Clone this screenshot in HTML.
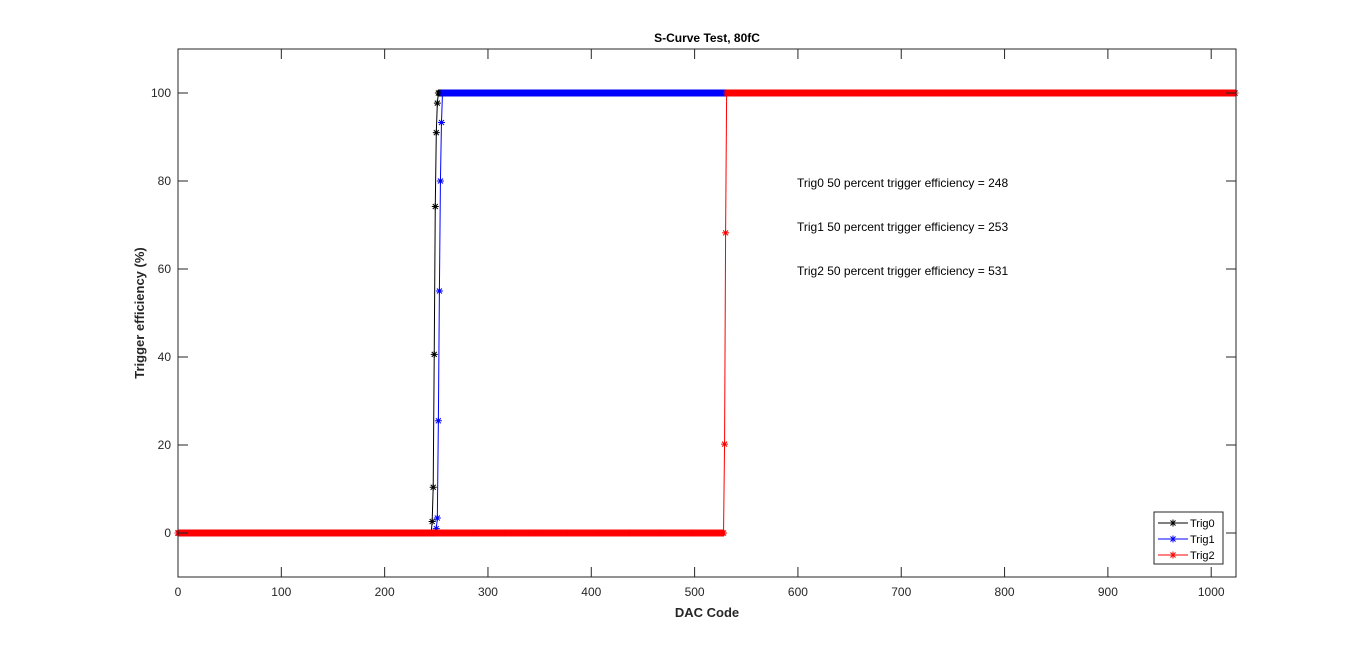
<!DOCTYPE html>
<html><head><meta charset="utf-8"><style>
html,body{margin:0;padding:0;background:#fff;}
svg{display:block;font-family:"Liberation Sans",Arial,sans-serif;}
</style></head><body>
<svg id="chart" width="1366" height="650" viewBox="0 0 1366 650">
<rect x="0" y="0" width="1366" height="650" fill="#fff"/>
<rect x="178" y="49" width="1058" height="528" fill="#fff"/>
<g id="series"></g>
<g id="axes"></g>
<text x="707" y="42" text-anchor="middle" font-size="12" font-weight="bold" fill="#000">S-Curve Test, 80fC</text>
<text x="707" y="617" text-anchor="middle" font-size="13" font-weight="bold" fill="#262626">DAC Code</text>
<text transform="translate(144,313) rotate(-90)" text-anchor="middle" font-size="13" font-weight="bold" fill="#262626">Trigger efficiency (%)</text>
<text x="797" y="187" font-size="12" fill="#000">Trig0 50 percent trigger efficiency = 248</text>
<text x="797" y="231" font-size="12" fill="#000">Trig1 50 percent trigger efficiency = 253</text>
<text x="797" y="275" font-size="12" fill="#000">Trig2 50 percent trigger efficiency = 531</text>
<g>
<rect x="1154" y="512" width="69" height="52" fill="#fff" stroke="#262626" stroke-width="1"/>
<g id="legend-items"></g>
</g>
</svg>
<script>
// ---- data ----
const xTicks = [0,100,200,300,400,500,600,700,800,900,1000];
const yTicks = [0,20,40,60,80,100];
const seriesNames = ["Trig0","Trig1","Trig2"];
const seriesColors = ["#000000","#0000ff","#ff0000"];
const dacMin = 0, dacMax = 1023;
const lowLevel = 0, highLevel = 100;
// transition region points (DAC code, efficiency %)
const trig0Codes = [246,247,248,249,250,251];
const trig0Values = [2.6,10.4,40.6,74.2,91.0,97.7];
const trig1Codes = [250,251,252,253,254,255];
const trig1Values = [1.0,3.4,25.5,55.0,80.0,93.3];
const trig2Codes = [529,530];
const trig2Values = [20.2,68.2];

const X0=178, X1=1236, Y0=49, Y1=577, XMIN=0, XMAX=1024, YMIN=-10, YMAX=110;
const sx = v => X0 + (v-XMIN)/(XMAX-XMIN)*(X1-X0);
const sy = v => Y1 - (v-YMIN)/(YMAX-YMIN)*(Y1-Y0);
const NS="http://www.w3.org/2000/svg";

function buildSeries(codes, values){
  const pts=[];
  for(let c=dacMin;c<=dacMax;c++){
    const i=codes.indexOf(c);
    let v;
    if(i>=0) v=values[i];
    else if(c<codes[0]) v=lowLevel;
    else v=highLevel;
    pts.push([c,v]);
  }
  return pts;
}
const allSeries=[buildSeries(trig0Codes,trig0Values),buildSeries(trig1Codes,trig1Values),buildSeries(trig2Codes,trig2Values)];

function star(x,y,r){
  const d=r*0.72;
  return `M${x-r} ${y}h${2*r}M${x} ${y-r}v${2*r}M${x-d} ${y-d}l${2*d} ${2*d}M${x-d} ${y+d}l${2*d} ${-2*d}`;
}

const sg=document.getElementById('series');
allSeries.forEach((pts,k)=>{
  const g=document.createElementNS(NS,'g');
  
  
  const line=document.createElementNS(NS,'polyline');
  
  
  line.setAttribute('points',pts.map(p=>sx(p[0]).toFixed(2)+','+sy(p[1]).toFixed(2)).join(' '));
  line.setAttribute('fill','none');
  line.setAttribute('stroke',seriesColors[k]);
  line.setAttribute('stroke-width','1');
  g.appendChild(line);
  let d='';
  pts.forEach(p=>{d+=star(+sx(p[0]).toFixed(2),+sy(p[1]).toFixed(2),3.5);});
  const m=document.createElementNS(NS,'path');
  
  
  m.setAttribute('d',d);
  m.setAttribute('stroke',seriesColors[k]);
  m.setAttribute('stroke-width','1');
  m.setAttribute('fill','none');
  g.appendChild(m);
  sg.appendChild(g);
});

const ax=document.getElementById('axes');
function el(tag,attrs,text){const e=document.createElementNS(NS,tag);for(const a in attrs)e.setAttribute(a,attrs[a]);if(text!==undefined)e.textContent=text;return e;}
const box=el('rect',{x:X0,y:Y0,width:X1-X0,height:Y1-Y0,fill:'none',stroke:'#262626','stroke-width':1});


ax.appendChild(box);
xTicks.forEach(t=>{
  const x=sx(t);
  const tk=el('path',{d:`M${x} ${Y1}v-10M${x} ${Y0}v10`,stroke:'#262626','stroke-width':1});
  
  
  ax.appendChild(tk);
  const lb=el('text',{x:x,y:Y1+19,'text-anchor':'middle','font-size':12,fill:'#262626'},String(t));
  
  
  ax.appendChild(lb);
});
yTicks.forEach(t=>{
  const y=sy(t);
  const tk=el('path',{d:`M${X0} ${y}h10M${X1} ${y}h-10`,stroke:'#262626','stroke-width':1});
  
  
  ax.appendChild(tk);
  const lb=el('text',{x:X0-7,y:y+4,'text-anchor':'end','font-size':12,fill:'#262626'},String(t));
  
  
  ax.appendChild(lb);
});

const lg=document.getElementById('legend-items');
seriesNames.forEach((n,k)=>{
  const y=523+k*16;
  const g=el('g',{});
  
  
  g.appendChild(el('path',{d:`M1158 ${y}h30`+star(1173,y,3.5),stroke:seriesColors[k],'stroke-width':1,fill:'none'}));
  g.appendChild(el('text',{x:1190,y:y+4,'font-size':11,fill:'#000'},n));
  lg.appendChild(g);
});
</script>
</body></html>
